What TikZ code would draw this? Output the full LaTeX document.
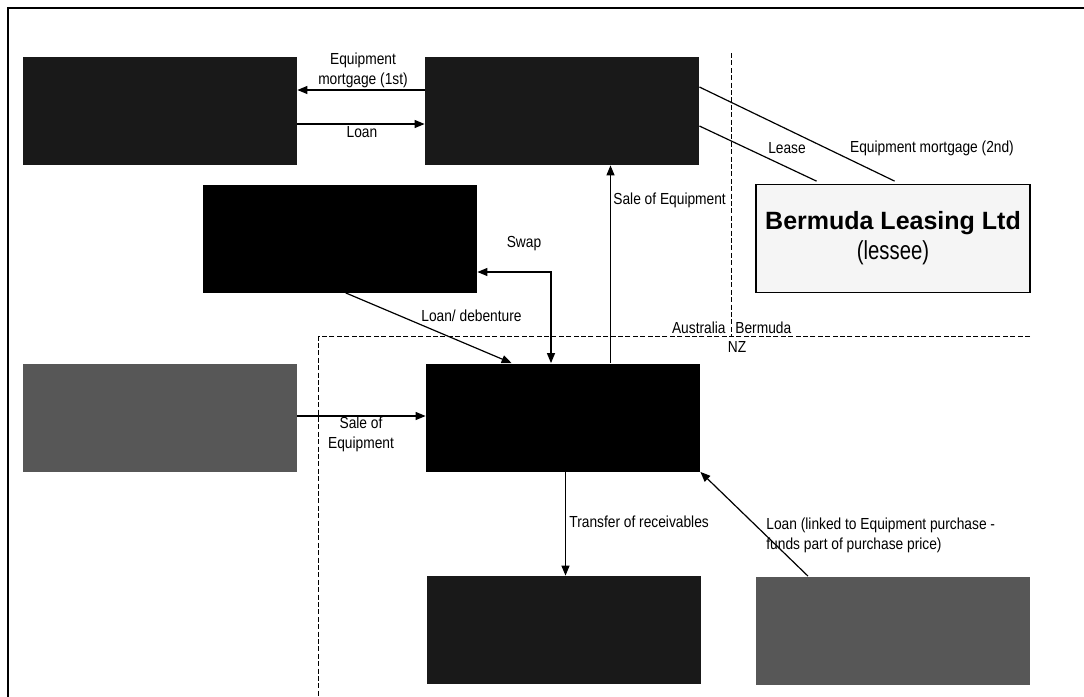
\documentclass[tikz,border=0pt]{standalone}
\usepackage{fontspec}
\setmainfont{Liberation Sans}
\newfontfamily\lblfont[FakeStretch=0.86]{Liberation Sans}
\newfontfamily\lesseefont[FakeStretch=0.78]{Liberation Sans}
\usetikzlibrary{arrows.meta,calc}

\begin{document}
\begin{tikzpicture}[x=0.5pt,y=-0.5pt,
  block/.style={rectangle, inner sep=0pt, minimum width=137pt, minimum height=54pt},
  darkbox/.style={block, fill=black!90},
  solidbox/.style={block, fill=black},
  greybox/.style={block, fill=black!66},
  lightbox/.style={block, fill=black!4, draw=black, line width=0.8pt, align=center},
  link/.style={line width=0.6pt},
  flow/.style={link, -{Triangle[length=5pt,width=4pt]}},
  twoway/.style={link, {Triangle[length=5pt,width=4pt]}-{Triangle[length=5pt,width=4pt]}},
  region/.style={dash pattern=on 2.5pt off 1.2pt, line width=0.5pt},
  lbl/.style={font=\lblfont\fontsize{8}{10}\selectfont, inner sep=0pt, align=center},
  lbll/.style={lbl, align=left}]

\useasboundingbox (0,0) rectangle (1084,697);
\fill[white] (0,0) rectangle (1084,697);

% page frame (left and top edges)
\draw[line width=1pt] (7.5,697) -- (7.5,7.5) -- (1084,7.5);

% entities
\node[darkbox]  (A) at (160,111)   {};
\node[darkbox]  (B) at (562,111)   {};
\node[solidbox] (C) at (340,238.5) {};
\node[lightbox] (D) at (893,238.5) {};
\node[solidbox] (E) at (563,417.5) {};
\node[greybox]  (F) at (160,417.5) {};
\node[darkbox]  (G) at (564,630)   {};
\node[greybox]  (H) at (893,630.5) {};

\node[font=\bfseries\fontsize{12.5}{14}\selectfont] (Dname) at (893,223) {Bermuda Leasing Ltd};
\node[font=\lesseefont\fontsize{13}{14}\selectfont] (Drole) at (893,253) {(lessee)};

% jurisdiction boundaries
\coordinate (vtop) at (731,53);
\coordinate (vmid) at (731,336.5);
\coordinate (hleft) at (318.7,336.5);
\coordinate (hright) at (1030,336.5);
\coordinate (vbot) at (318.7,697);
\draw[region] (vtop) -- (vmid);
\draw[region] (hright) -- (hleft) -- (vbot);

% connectors
\draw[flow] (B.west |- 0,90) -- (A.east |- 0,90);
\draw[flow] (A.east |- 0,124) -- (B.west |- 0,124);
\draw[link, shorten >=3pt] (B.east |- 0,87) -- (D.north -| 900,0);
\draw[link, shorten >=3pt] (B.east |- 0,126) -- (D.north -| 822,0);
\draw[flow] (E.north -| 610.5,0) -- (B.south -| 610.5,0);
\coordinate (swapbend) at (551,272);
\draw[twoway] (C.east |- swapbend) -- (swapbend) -- (E.north -| swapbend);
\draw[flow] (C.south -| 345.7,0) -- (E.north -| 511.6,0);
\draw[flow] (F.east |- 0,416) -- (E.west |- 0,416);
\draw[flow] (E.south -| 565.5,0) -- (G.north -| 565.5,0);
\draw[flow] (H.north -| 808,0) -- (E.south east);

% labels
\node[lbl] (l1) at (363,70) {Equipment\\mortgage (1st)};
\node[lbl] (l2) at (362,132) {Loan};
\node[lbl] (l3) at (787,148) {Lease};
\node[lbl] (l4) at (932,148) {Equipment mortgage (2nd)};
\node[lbl, anchor=west] (l5) at (613,200) {Sale of Equipment};
\node[lbl] (l6) at (524,243.5) {Swap};
\node[lbl] (l7) at (471.5,315.6) {Loan/ debenture};
\node[lbl, anchor=east] (l8) at (726,327.6) {Australia};
\node[lbl, anchor=west] (l9) at (735,327.6) {Bermuda};
\node[lbl] (l10) at (737,347) {NZ};
\node[lbl] (l11) at (361,434) {Sale of\\Equipment};
\node[lbl, anchor=west] (l12) at (569,522) {Transfer of receivables};
\node[lbll, anchor=west] (l13) at (766,535) {Loan (linked to Equipment purchase -\\funds part of purchase price)};

\end{tikzpicture}
\end{document}
